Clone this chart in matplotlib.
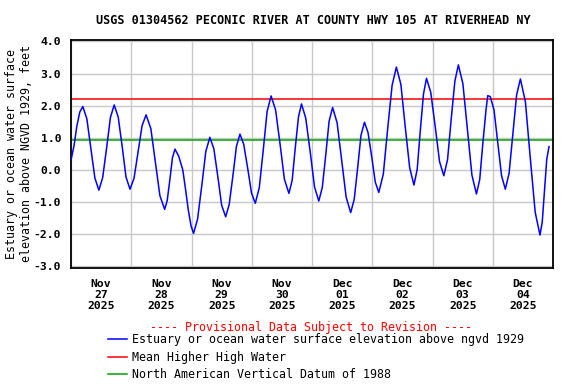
import datetime
import matplotlib
matplotlib.use('Agg')
import matplotlib.pyplot as plt
import matplotlib.dates as mdates
from matplotlib.ticker import NullFormatter

# hours after 2025-11-27 00:00 and water level (ft)
hours = [0.0, 1.2, 2.3, 3.5, 4.7,
         6.3, 7.9, 9.5, 11.1,
         12.6, 14.2, 15.7, 17.2,
         18.8, 20.4, 21.9, 23.5,
         25.1, 26.7, 28.3, 29.9,
         31.8, 33.6, 35.4, 37.3,
         38.3, 39.4, 40.4, 41.4, 42.9,
         44.5, 45.6, 46.7, 47.8, 48.8,
         50.4, 52.1, 53.7, 55.3,
         56.9, 58.5, 60.0, 61.6,
         63.0, 64.5, 65.9, 67.3,
         68.8, 70.4, 71.9, 73.4,
         75.0, 76.6, 78.1, 79.7,
         81.5, 83.3, 85.0, 86.8,
         88.1, 89.3, 90.6, 91.8,
         93.5, 95.3, 97.0, 98.7,
         100.1, 101.5, 102.8, 104.2,
         106.0, 107.8, 109.6, 111.4,
         112.8, 114.2, 115.5, 116.9,
         118.3, 119.8, 121.2, 122.6,
         124.4, 126.1, 127.9, 129.6,
         131.4, 133.1, 134.9, 136.6,
         137.9, 139.1, 140.4, 141.6,
         143.3, 145.1, 146.8, 148.5,
         150.0, 151.4, 152.9, 154.3,
         156.1, 157.9, 159.7, 161.5,
         162.8, 164.0, 165.3, 166.0, 167.0,
         168.5, 170.0, 171.5, 173.0,
         174.5, 176.0, 177.5, 179.0,
         181.0, 182.9, 184.9, 186.8,
         187.7, 188.6, 189.5, 190.4]
elev = [0.30, 0.75, 1.35, 1.80, 1.97,
        1.59, 0.67, -0.26, -0.64,
        -0.25, 0.69, 1.63, 2.02,
        1.64, 0.71, -0.23, -0.61,
        -0.27, 0.55, 1.37, 1.71,
        1.28, 0.24, -0.81, -1.24,
        -0.97, -0.30, 0.37, 0.64, 0.42,
        0.00, -0.60, -1.25, -1.75, -1.99,
        -1.55, -0.49, 0.57, 1.01,
        0.65, -0.23, -1.11, -1.47,
        -1.09, -0.18, 0.73, 1.11,
        0.79, 0.03, -0.73, -1.05,
        -0.56, 0.63, 1.81, 2.30,
        1.86, 0.78, -0.30, -0.74,
        -0.33, 0.66, 1.64, 2.05,
        1.61, 0.54, -0.54, -0.98,
        -0.55, 0.48, 1.51, 1.94,
        1.46, 0.30, -0.86, -1.34,
        -0.93, 0.07, 1.07, 1.48,
        1.16, 0.39, -0.39, -0.71,
        -0.14, 1.25, 2.63, 3.20,
        2.66, 1.36, 0.06, -0.48,
        0.01, 1.19, 2.36, 2.85,
        2.41, 1.33, 0.25, -0.19,
        0.32, 1.54, 2.76, 3.27,
        2.68, 1.26, -0.17, -0.76,
        -0.31, 0.78, 1.86, 2.31, 2.28,
        1.86, 0.84, -0.19, -0.61,
        -0.11, 1.11, 2.33, 2.83,
        2.12, 0.40, -1.33, -2.04,
        -1.64, -0.66, 0.32, 0.72]

mhhw = 2.19      # Mean Higher High Water
navd88 = 0.94    # NAVD 1988

start = datetime.datetime(2025, 11, 27)
times = [start + datetime.timedelta(hours=h) for h in hours]

mono = 'DejaVu Sans Mono'
plt.rcParams['font.family'] = mono

fig = plt.figure(figsize=(5.76, 3.84), dpi=100)
ax = fig.add_axes([0.1233, 0.302, 0.8368, 0.595])

l2, = ax.plot([start, start + datetime.timedelta(days=8)], [mhhw, mhhw], color='#ff0000', lw=1.1)
l3, = ax.plot([start, start + datetime.timedelta(days=8)], [navd88, navd88], color='#00a000', lw=1.1)
l1, = ax.plot(times, elev, color='#0000ff', lw=1.1, zorder=3)

ax.set_xlim(start, start + datetime.timedelta(days=8))
ax.set_ylim(-3.07, 4.06)
ax.set_yticks(range(-3, 5))
ax.set_yticklabels(['%.1f' % v for v in range(-3, 5)], fontsize=8.2, fontweight='bold')

ax.xaxis.set_major_locator(mdates.DayLocator())
ax.xaxis.set_major_formatter(NullFormatter())
ax.xaxis.set_minor_locator(mdates.HourLocator(byhour=12))
ax.xaxis.set_minor_formatter(mdates.DateFormatter('%b\n%d\n%Y'))
for lab in ax.xaxis.get_minorticklabels():
    lab.set_fontsize(8.2)
    lab.set_fontweight('bold')
    lab.set_linespacing(1.12)
ax.tick_params(which='both', length=0)
ax.tick_params(axis='x', which='minor', pad=8)
ax.tick_params(axis='y', pad=7)
ax.grid(True, which='major', color='#c8c8c8', lw=1)
for s in ax.spines.values():
    s.set_linewidth(1.3)

fig.text(313 / 576, 1 - 20 / 384, 'USGS 01304562 PECONIC RIVER AT COUNTY HWY 105 AT RIVERHEAD NY',
         ha='center', va='center', fontsize=8.5, fontweight='bold')
fig.text(19 / 576, 1 - 154 / 384, 'Estuary or ocean water surface\nelevation above NGVD 1929, feet',
         ha='center', va='center', rotation=90, fontsize=8.4)
fig.text(311 / 576, 1 - 327 / 384, '---- Provisional Data Subject to Revision ----',
         ha='center', va='center', color='#ff0000', fontsize=8.4)

fig.legend([l1, l2, l3],
           ['Estuary or ocean water surface elevation above ngvd 1929',
            'Mean Higher High Water',
            'North American Vertical Datum of 1988'],
           loc='upper left', bbox_to_anchor=(108 / 576, 1 - 333 / 384),
           frameon=False, fontsize=8.4, handlelength=1.6, handletextpad=0.5,
           labelspacing=0.4, borderpad=0, borderaxespad=0)

plt.savefig('out.png')
